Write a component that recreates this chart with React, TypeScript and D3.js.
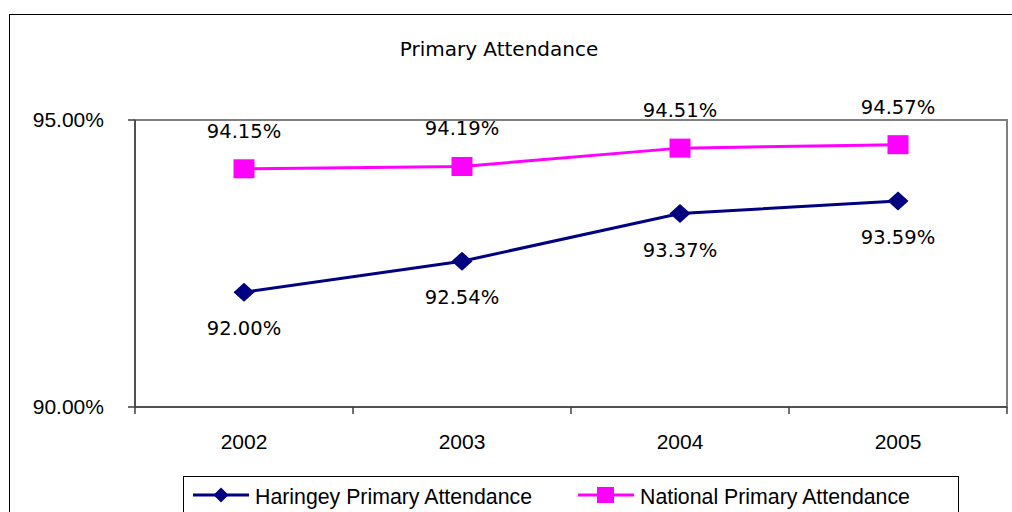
import React from "react";
import * as d3 from "d3";

const years = ["2002", "2003", "2004", "2005"];
const haringey = [92.0, 92.54, 93.37, 93.59];
const national = [94.15, 94.19, 94.51, 94.57];
const yTicks = [90, 95];
const seriesNames = ["Haringey Primary Attendance", "National Primary Attendance"];

export default function App() {
  const W = 1012, H = 512;
  const left = 135, right = 1007, top = 120, bottom = 407;
  const x = d3.scaleBand<string>().domain(years).range([left, right]);
  const y = d3.scaleLinear().domain([90, 95]).range([bottom, top]);
  const cx = (d: string) => (x(d) ?? 0) + x.bandwidth() / 2;
  const line = d3.line<number>().x((_, i) => cx(years[i])).y((v) => y(v));
  const fmt = (v: number) => v.toFixed(2) + "%";
  const axisFont = "'Liberation Sans', Arial, sans-serif";
  const labelFont = "'DejaVu Sans', Verdana, sans-serif";
  const navy = "#000080";
  const magenta = "#FF00FF";
  const bounds = [...years.map((d) => x(d) ?? 0), right];
  const diamond = (px: number, py: number, rx: number, ry: number) =>
    `M${px},${py - ry}L${px + rx},${py}L${px},${py + ry}L${px - rx},${py}Z`;

  return (
    <svg width={W} height={H} style={{ position: "absolute", left: 0, top: 0 }}>
      <rect x={0} y={0} width={W} height={H} fill="#fff" />
      <rect x={9.5} y={14.5} width={W + 10} height={H + 10} fill="none" stroke="#000" strokeWidth={1} />
      <text x={499} y={56} textAnchor="middle" fontFamily={labelFont} fontSize={20} fill="#000">
        Primary Attendance
      </text>
      {/* plot area */}
      <rect x={left} y={top} width={right - left} height={bottom - top} fill="#fff" stroke="#808080" strokeWidth={2} />
      {/* y axis */}
      <line x1={left} x2={left} y1={top} y2={bottom} stroke="#404040" strokeWidth={1.5} />
      {yTicks.map((t) => (
        <g key={t}>
          <line x1={128} x2={left} y1={y(t)} y2={y(t)} stroke="#404040" strokeWidth={1.5} />
          <text x={104} y={y(t) + 7} textAnchor="end" fontFamily={axisFont} fontSize={21} fill="#000">
            {t.toFixed(2)}%
          </text>
        </g>
      ))}
      {/* x axis */}
      <line x1={left} x2={right} y1={bottom} y2={bottom} stroke="#404040" strokeWidth={1.5} />
      {bounds.map((b, i) => (
        <line key={i} x1={b} x2={b} y1={bottom} y2={bottom + 7} stroke="#404040" strokeWidth={1.5} />
      ))}
      {years.map((d) => (
        <text key={d} x={cx(d)} y={449} textAnchor="middle" fontFamily={axisFont} fontSize={21} fill="#000">
          {d}
        </text>
      ))}
      {/* series */}
      <path d={line(haringey) ?? ""} fill="none" stroke={navy} strokeWidth={3} />
      <path d={line(national) ?? ""} fill="none" stroke={magenta} strokeWidth={3} />
      {haringey.map((v, i) => (
        <g key={"h" + i}>
          <path d={diamond(cx(years[i]), y(v), 10.5, 9.5)} fill={navy} />
          <text x={cx(years[i])} y={y(v) + 43} textAnchor="middle" fontFamily={labelFont} fontSize={19.5} fill="#000">
            {fmt(v)}
          </text>
        </g>
      ))}
      {national.map((v, i) => (
        <g key={"n" + i}>
          <rect x={cx(years[i]) - 10.5} y={y(v) - 9.5} width={21} height={19} fill={magenta} />
          <text x={cx(years[i])} y={y(v) - 31} textAnchor="middle" fontFamily={labelFont} fontSize={19.5} fill="#000">
            {fmt(v)}
          </text>
        </g>
      ))}
      {/* legend */}
      <rect x={183.5} y={476.5} width={775} height={60} fill="#fff" stroke="#000" strokeWidth={1} />
      <line x1={193} x2={249} y1={495} y2={495} stroke={navy} strokeWidth={3} />
      <path d={diamond(221, 495, 7.5, 7.5)} fill={navy} />
      <text x={255} y={504} fontFamily={axisFont} fontSize={21.3} fill="#000">{seriesNames[0]}</text>
      <line x1={578} x2={634} y1={495} y2={495} stroke={magenta} strokeWidth={3} />
      <rect x={597} y={487} width={17} height={16} fill={magenta} />
      <text x={640} y={504} fontFamily={axisFont} fontSize={21.3} fill="#000">{seriesNames[1]}</text>
    </svg>
  );
}
